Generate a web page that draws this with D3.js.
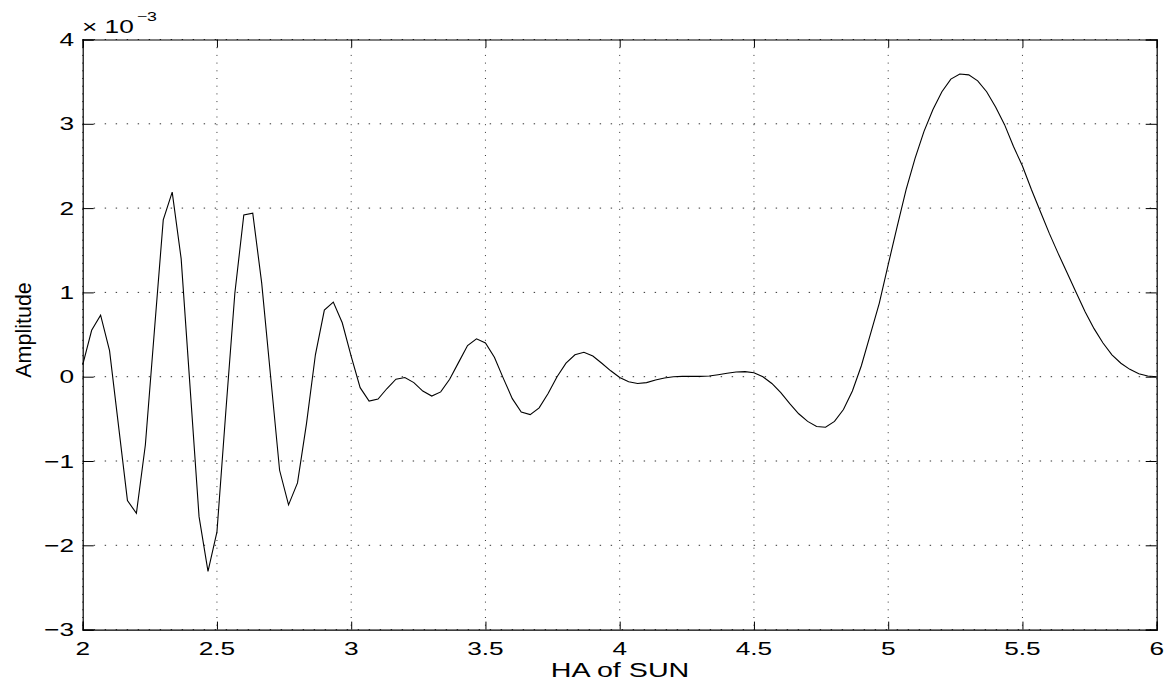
<!DOCTYPE html>
<html>
<head>
<meta charset="utf-8">
<script src="https://cdn.jsdelivr.net/npm/d3@7"></script>
<style>
  html, body { margin: 0; padding: 0; background: #fff; }
  svg { display: block; }
  text { font-family: "Liberation Sans", Arial, Helvetica, sans-serif; fill: #000; }
</style>
</head>
<body>
<svg id="chart" width="1173" height="680"></svg>
<script>
// Hour angle of the sun, sampled every 1/30 from 2 to 6
const haStart = 2, haStep = 1 / 30, sampleCount = 121;
// Amplitude in units of 1e-3
const amplitude = [
  0.14, 0.55, 0.73, 0.31, -0.58, -1.47, -1.62, -0.81, 0.53, 1.86,
  2.19, 1.40, -0.13, -1.66, -2.31, -1.84, -0.40, 0.99, 1.92, 1.94,
  1.11, 0.00, -1.11, -1.52, -1.26, -0.56, 0.26, 0.79, 0.885, 0.64,
  0.24, -0.13, -0.29, -0.265, -0.14, -0.03, -0.01, -0.07, -0.17, -0.23,
  -0.18, -0.03, 0.17, 0.37, 0.45, 0.40, 0.23, -0.02, -0.26, -0.42,
  -0.45, -0.37, -0.20, 0.00, 0.16, 0.26, 0.29, 0.245, 0.16, 0.07,
  -0.01, -0.06, -0.08, -0.07, -0.04, -0.016, 0.00, 0.004, 0.004, 0.004,
  0.008, 0.024, 0.04, 0.055, 0.06, 0.047, 0.00, -0.08, -0.19, -0.32,
  -0.44, -0.53, -0.59, -0.60, -0.53, -0.39, -0.17, 0.13, 0.50, 0.87,
  1.33, 1.78, 2.22, 2.59, 2.91, 3.17, 3.38, 3.53, 3.59, 3.58,
  3.51, 3.38, 3.20, 2.99, 2.73, 2.50, 2.22, 1.96, 1.70, 1.46,
  1.23, 1.00, 0.77, 0.57, 0.40, 0.26, 0.16, 0.087, 0.036, 0.008,
  0.00
];
const hourAngle = d3.range(sampleCount).map(i => haStart + i * haStep);

const xTicks = [2, 2.5, 3, 3.5, 4, 4.5, 5, 5.5, 6];
const yTicks = [-3, -2, -1, 0, 1, 2, 3, 4];
const xTitle = "HA of SUN";
const yTitle = "Amplitude";
const exponentBase = "\u00D7 10";
const exponentPower = "\u22123";

const plotLeft = 82.7, plotRight = 1156.7, plotTop = 39.5, plotBottom = 629.6;
const stretch = 1.42;   // horizontal widening of the label glyphs

const svg = d3.select("#chart");
const x = d3.scaleLinear().domain([2, 6]).range([plotLeft, plotRight]);
const y = d3.scaleLinear().domain([-3, 4]).range([plotBottom, plotTop]);

const fmt = v => String(v).replace("-", "\u2212");

// dotted grid
const grid = svg.append("g");
grid.selectAll("line.gx").data(xTicks).join("line")
  .attr("x1", d => x(d)).attr("x2", d => x(d))
  .attr("y1", plotTop).attr("y2", plotBottom)
  .attr("stroke", "#333").attr("stroke-width", 1)
  .attr("stroke-dasharray", "1,6.7");
grid.selectAll("line.gy").data(yTicks).join("line")
  .attr("y1", d => y(d)).attr("y2", d => y(d))
  .attr("x1", plotLeft).attr("x2", plotRight)
  .attr("stroke", "#333").attr("stroke-width", 1)
  .attr("stroke-dasharray", "1.4,9.6");

// data line
const line = d3.line()
  .x((d, i) => x(hourAngle[i]))
  .y(d => y(d));
svg.append("path")
  .datum(amplitude)
  .attr("d", line)
  .attr("fill", "none")
  .attr("stroke", "#000")
  .attr("stroke-width", 1.1)
  .attr("stroke-linejoin", "miter");

// axes: ticks point inward, mirrored on the opposite sides
const xTickLen = 8, yTickLen = 11;
const bottomAxis = d3.axisBottom(x).tickValues(xTicks).tickSize(-xTickLen).tickFormat("");
const topAxis = d3.axisTop(x).tickValues(xTicks).tickSize(-xTickLen).tickFormat("");
const leftAxis = d3.axisLeft(y).tickValues(yTicks).tickSize(-yTickLen).tickFormat("");
const rightAxis = d3.axisRight(y).tickValues(yTicks).tickSize(-yTickLen).tickFormat("");

function styleAxis(g) {
  g.selectAll("path.domain").attr("stroke", "#000").attr("stroke-width", 1.2);
  g.selectAll(".tick line").attr("stroke", "#000").attr("stroke-width", 1);
}
svg.append("g").attr("transform", `translate(0,${plotBottom})`).call(bottomAxis).call(styleAxis);
svg.append("g").attr("transform", `translate(0,${plotTop})`).call(topAxis).call(styleAxis);
svg.append("g").attr("transform", `translate(${plotLeft},0)`).call(leftAxis).call(styleAxis);
svg.append("g").attr("transform", `translate(${plotRight},0)`).call(rightAxis).call(styleAxis);

// tick labels
svg.append("g").selectAll("g").data(xTicks).join("g")
  .attr("transform", d => `translate(${x(d)},655) scale(${stretch},1)`)
  .append("text")
  .attr("text-anchor", "middle")
  .attr("font-size", 18.5)
  .text(d => fmt(d));

svg.append("g").selectAll("g").data(yTicks).join("g")
  .attr("transform", d => `translate(74,${y(d) + 6.6}) scale(${stretch},1)`)
  .append("text")
  .attr("text-anchor", "end")
  .attr("font-size", 18.5)
  .text(d => fmt(d));

// exponent marker above the y axis
const expo = svg.append("g").attr("transform", `translate(82,33) scale(${stretch},1)`);
expo.append("text").attr("font-size", 18.5).text(exponentBase);
expo.append("text").attr("x", 38.5).attr("y", -12).attr("font-size", 12.5).text(exponentPower);

// axis titles
svg.append("g").attr("transform", `translate(620,677) scale(1.4,1)`)
  .append("text")
  .attr("text-anchor", "middle")
  .attr("font-size", 20.5)
  .text(xTitle);

svg.append("text")
  .attr("transform", "translate(31,330) rotate(-90)")
  .attr("text-anchor", "middle")
  .attr("font-size", 21.5)
  .text(yTitle);
</script>
</body>
</html>
